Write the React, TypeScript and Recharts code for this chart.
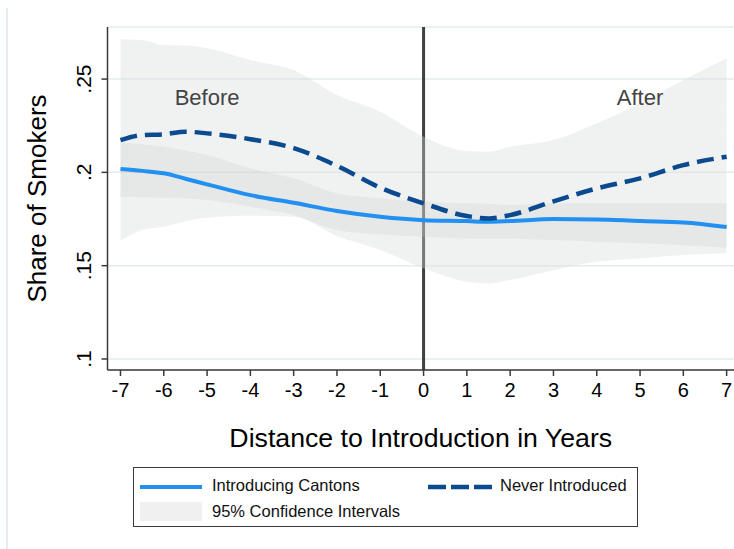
import React from 'react';
import {
  ComposedChart,
  Area,
  Line,
  XAxis,
  YAxis,
  CartesianGrid,
  ReferenceDot,
} from 'recharts';

// Distance to introduction (years)
const years = [-7, -6.5, -6, -5.5, -5, -4, -3, -2, -1, 0, 1, 1.5, 2, 3, 4, 5, 6, 7];
// Share of smokers, introducing cantons
const introducing = [0.2018, 0.2008, 0.1995, 0.1966, 0.1936, 0.1878, 0.1837, 0.1793, 0.1762, 0.1744, 0.1739, 0.1735, 0.1739, 0.175, 0.1748, 0.1739, 0.1732, 0.1707];
// Share of smokers, never introduced
const neverIntroduced = [0.2173, 0.22, 0.2204, 0.2218, 0.2209, 0.2178, 0.213, 0.2035, 0.1918, 0.1834, 0.1766, 0.1753, 0.1771, 0.1845, 0.1914, 0.1968, 0.2039, 0.2084];
// 95% CI, introducing cantons
const introLow = [0.1869, 0.1867, 0.1864, 0.186, 0.1852, 0.1816, 0.1771, 0.1691, 0.1668, 0.1655, 0.1646, 0.1646, 0.1646, 0.1637, 0.1628, 0.162, 0.161, 0.1596];
const introHigh = [0.2161, 0.215, 0.2137, 0.2117, 0.2093, 0.2021, 0.1968, 0.1887, 0.1861, 0.1843, 0.1834, 0.183, 0.1825, 0.1834, 0.1834, 0.1834, 0.1834, 0.1834];
// 95% CI, never introduced
const neverLow = [0.1632, 0.1691, 0.1708, 0.1738, 0.1757, 0.1767, 0.1762, 0.1659, 0.1584, 0.1486, 0.1414, 0.1405, 0.1423, 0.1476, 0.1521, 0.1539, 0.1557, 0.1566];
const neverHigh = [0.2713, 0.2709, 0.2682, 0.268, 0.2665, 0.2602, 0.2548, 0.2414, 0.2325, 0.2191, 0.2114, 0.211, 0.2137, 0.2173, 0.2263, 0.237, 0.2495, 0.2611];

const xTicks = [-7, -6, -5, -4, -3, -2, -1, 0, 1, 2, 3, 4, 5, 6, 7];
const yTicks = [0.1, 0.15, 0.2, 0.25];
const introductionYear = [0];

const data = years.map((t, i) => ({
  t,
  introducing: introducing[i],
  never: neverIntroduced[i],
  introCI: [introLow[i], introHigh[i]],
  neverCI: [neverLow[i], neverHigh[i]],
}));

const FONT = '"Liberation Sans", Arial, Helvetica, sans-serif';
const LIGHT_BLUE = '#2190f0';
const NAVY = '#0b4a8f';

const fmtY = (v: number) => String(v).replace(/^0/, '');

const YTick = (props: any) => {
  const { x, y, payload } = props;
  return (
    <text
      transform={`translate(${x},${y}) rotate(-90)`}
      textAnchor="middle"
      fontSize={21}
      fill="#000"
      fontFamily={FONT}
    >
      {fmtY(payload.value)}
    </text>
  );
};

const Legend = () => (
  <div
    style={{
      position: 'absolute',
      left: 133,
      top: 467,
      width: 505,
      height: 60,
      boxSizing: 'border-box',
      border: '1.5px solid #3a3a3a',
      background: '#fff',
      fontFamily: FONT,
      fontSize: 16.5,
      color: '#111',
    }}
  >
    <svg style={{ position: 'absolute', left: 5.5, top: 15.5 }} width={62} height={6}>
      <line x1={0} y1={3} x2={62} y2={3} stroke={LIGHT_BLUE} strokeWidth={4} />
    </svg>
    <div style={{ position: 'absolute', left: 78, top: 7, lineHeight: '20px' }}>Introducing Cantons</div>
    <svg style={{ position: 'absolute', left: 293.5, top: 15.5 }} width={64} height={6}>
      <line x1={0} y1={3} x2={64} y2={3} stroke={NAVY} strokeWidth={4.5} strokeDasharray="18 5" />
    </svg>
    <div style={{ position: 'absolute', left: 366, top: 7, lineHeight: '20px' }}>Never Introduced</div>
    <div style={{ position: 'absolute', left: 5.5, top: 33.5, width: 62, height: 19, background: '#f0f0f0' }} />
    <div style={{ position: 'absolute', left: 78, top: 33, lineHeight: '20px' }}>95% Confidence Intervals</div>
  </div>
);

export default function App() {
  return (
    <div style={{ position: 'absolute', left: 0, top: 0, width: 734, height: 549, background: '#fff', overflow: 'hidden' }}>
      <div style={{ position: 'absolute', left: 6, top: 8, width: 1.5, height: 541, background: '#e4eef0' }} />
      <div style={{ position: 'absolute', left: 0, top: 0 }}>
        <ComposedChart
          width={734}
          height={549}
          data={data}
          margin={{ top: 27, right: 0, left: 0, bottom: 121 }}
          style={{ fontFamily: FONT }}
        >
          <CartesianGrid horizontal vertical={false} stroke="#e3ecef" strokeWidth={1.5} />
          <CartesianGrid
            horizontal={false}
            vertical
            verticalValues={introductionYear}
            stroke="#404040"
            strokeWidth={3}
          />
          <XAxis
            dataKey="t"
            type="number"
            domain={[-7.3, 7.17]}
            ticks={xTicks}
            allowDataOverflow
            height={58}
            tickSize={6}
            tickMargin={7}
            tick={{ fontSize: 20, fill: '#000', fontFamily: FONT }}
            axisLine={{ stroke: '#3a3a3a', strokeWidth: 1.5 }}
            tickLine={{ stroke: '#3a3a3a', strokeWidth: 1.5 }}
            label={{
              value: 'Distance to Introduction in Years',
              position: 'bottom',
              offset: 0,
              fontSize: 26.7,
              fill: '#000',
              fontFamily: FONT,
            }}
          />
          <YAxis
            type="number"
            domain={[0.0941, 0.2779]}
            ticks={yTicks}
            allowDataOverflow
            width={107.5}
            tickSize={6}
            tickMargin={11}
            tick={<YTick />}
            axisLine={{ stroke: '#3a3a3a', strokeWidth: 1.5 }}
            tickLine={{ stroke: '#3a3a3a', strokeWidth: 1.5 }}
            label={{
              value: 'Share of Smokers',
              angle: -90,
              position: 'insideLeft',
              offset: 0,
              dx: 37,
              fontSize: 26,
              fill: '#000',
              fontFamily: FONT,
              style: { textAnchor: 'middle' },
            }}
          />
          <Area
            type="monotone"
            dataKey="neverCI"
            stroke="none"
            fill="#d6dbdb"
            fillOpacity={0.37}
            isAnimationActive={false}
            activeDot={false}
          />
          <Area
            type="monotone"
            dataKey="introCI"
            stroke="none"
            fill="#c8c8c8"
            fillOpacity={0.25}
            isAnimationActive={false}
            activeDot={false}
          />
          <Line
            type="monotone"
            dataKey="introducing"
            stroke={LIGHT_BLUE}
            strokeWidth={4}
            dot={false}
            activeDot={false}
            isAnimationActive={false}
          />
          <Line
            type="monotone"
            dataKey="never"
            stroke={NAVY}
            strokeWidth={4.5}
            strokeDasharray="17 8"
            dot={false}
            activeDot={false}
            isAnimationActive={false}
          />
          <ReferenceDot
            x={-5}
            y={0.2401}
            r={0}
            fill="none"
            stroke="none"
            label={{ value: 'Before', position: 'center', fontSize: 22, fill: '#444', fontFamily: FONT }}
          />
          <ReferenceDot
            x={5}
            y={0.2401}
            r={0}
            fill="none"
            stroke="none"
            label={{ value: 'After', position: 'center', fontSize: 22, fill: '#444', fontFamily: FONT }}
          />
        </ComposedChart>
      </div>
      <Legend />
    </div>
  );
}
